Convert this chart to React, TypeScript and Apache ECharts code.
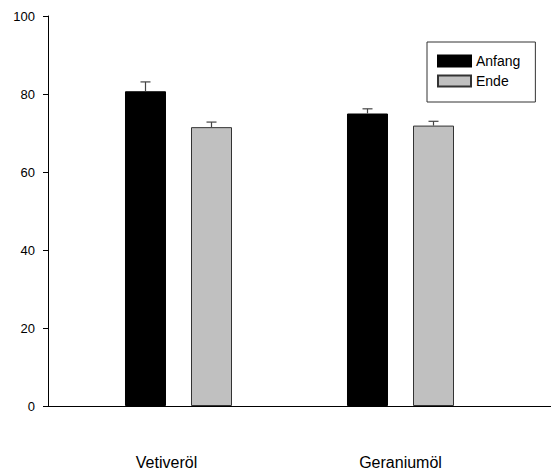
import React, { useEffect, useRef } from "react";
import * as echarts from "echarts";

const categories = ["Vetiveröl", "Geraniumöl"];
const seriesNames = ["Anfang", "Ende"];
const anfang = [80.7, 75.0];
const ende = [71.5, 71.9];
const anfangErr = [2.4, 1.2];
const endeErr = [1.3, 1.1];
const yTicks = [0, 20, 40, 60, 80, 100];

const FONT = "Liberation Sans, Arial, sans-serif";

export default function App() {
  const ref = useRef<HTMLDivElement>(null);
  useEffect(() => {
    if (!ref.current) return;
    const chart = echarts.init(ref.current, undefined, { renderer: "svg" });
    const errData = (vals: number[], errs: number[]) =>
      vals.map((v, i) => [i, v, v + errs[i]]);
    const makeErr = (name: string, vals: number[], errs: number[], offset: number) => ({
      type: "custom",
      name: name + "_err",
      xAxisIndex: 1,
      yAxisIndex: 1,
      silent: true,
      z: 5,
      data: errData(vals, errs),
      renderItem: (params: any, api: any) => {
        const idx = api.value(0);
        const p0 = api.coord([idx, api.value(1)]);
        const p1 = api.coord([idx, api.value(2)]);
        const x = p0[0] + offset;
        return {
          type: "group",
          children: [
            { type: "line", shape: { x1: x, y1: p0[1], x2: x, y2: p1[1] }, style: { stroke: "#444", lineWidth: 1.2 } },
            { type: "line", shape: { x1: x - 5, y1: p1[1], x2: x + 5, y2: p1[1] }, style: { stroke: "#444", lineWidth: 1.2 } },
          ],
        };
      },
    });
    chart.setOption({
      animation: false,
      backgroundColor: "#fff",
      textStyle: { fontFamily: FONT },
      grid: [
        { left: 48, right: 0, top: 16, bottom: 66 },
        { left: 67.5, width: 444, top: 16, bottom: 66 },
      ],
      legend: {
        data: seriesNames,
        orient: "vertical",
        left: 427,
        top: 42,
        padding: [12, 15, 14, 10],
        itemWidth: 33,
        itemHeight: 11,
        itemGap: 6,
        icon: "rect",
        borderColor: "#333",
        borderWidth: 1,
        textStyle: { fontFamily: FONT, fontSize: 14, color: "#000" },
      },
      xAxis: [
        {
          type: "value",
          gridIndex: 0,
          min: 0,
          max: 1,
          axisLine: { show: true, lineStyle: { color: "#000", width: 1 } },
          axisTick: { show: false },
          axisLabel: { show: false },
          splitLine: { show: false },
        },
        {
          type: "category",
          gridIndex: 1,
          data: categories,
          axisLine: { show: false },
          axisTick: { show: false },
          axisLabel: {
            margin: 48,
            fontFamily: FONT,
            fontSize: 16,
            color: "#000",
            formatter: (v: string, i: number) => (i === 0 ? "{a|" + v + "}" : v),
            rich: { a: { fontFamily: FONT, fontSize: 16, color: "#000", padding: [0, 24, 0, 0] } },
          },
        },
      ],
      yAxis: [
        {
          type: "value",
          gridIndex: 0,
          min: yTicks[0],
          max: yTicks[yTicks.length - 1],
          interval: 20,
          axisLine: { show: true, lineStyle: { color: "#000", width: 1 } },
          axisTick: { show: true, length: 5, lineStyle: { color: "#000" } },
          axisLabel: { margin: 13, fontFamily: FONT, fontSize: 13, color: "#000" },
          splitLine: { show: false },
        },
        {
          type: "value",
          gridIndex: 1,
          min: yTicks[0],
          max: yTicks[yTicks.length - 1],
          interval: 20,
          show: false,
          splitLine: { show: false },
        },
      ],
      series: [
        {
          name: seriesNames[0],
          type: "bar",
          xAxisIndex: 1,
          yAxisIndex: 1,
          data: anfang,
          barWidth: 41,
          barGap: "61%",
          itemStyle: { color: "#000", borderColor: "#000", borderWidth: 1 },
        },
        {
          name: seriesNames[1],
          type: "bar",
          xAxisIndex: 1,
          yAxisIndex: 1,
          data: ende,
          barWidth: 41,
          barGap: "61%",
          itemStyle: { color: "#c0c0c0", borderColor: "#333", borderWidth: 1 },
        },
        makeErr(seriesNames[0], anfang, anfangErr, -33),
        makeErr(seriesNames[1], ende, endeErr, 33),
      ],
    });
    return () => chart.dispose();
  }, []);
  return <div ref={ref} style={{ width: 551, height: 472, position: "absolute", left: 0, top: 0 }} />;
}
